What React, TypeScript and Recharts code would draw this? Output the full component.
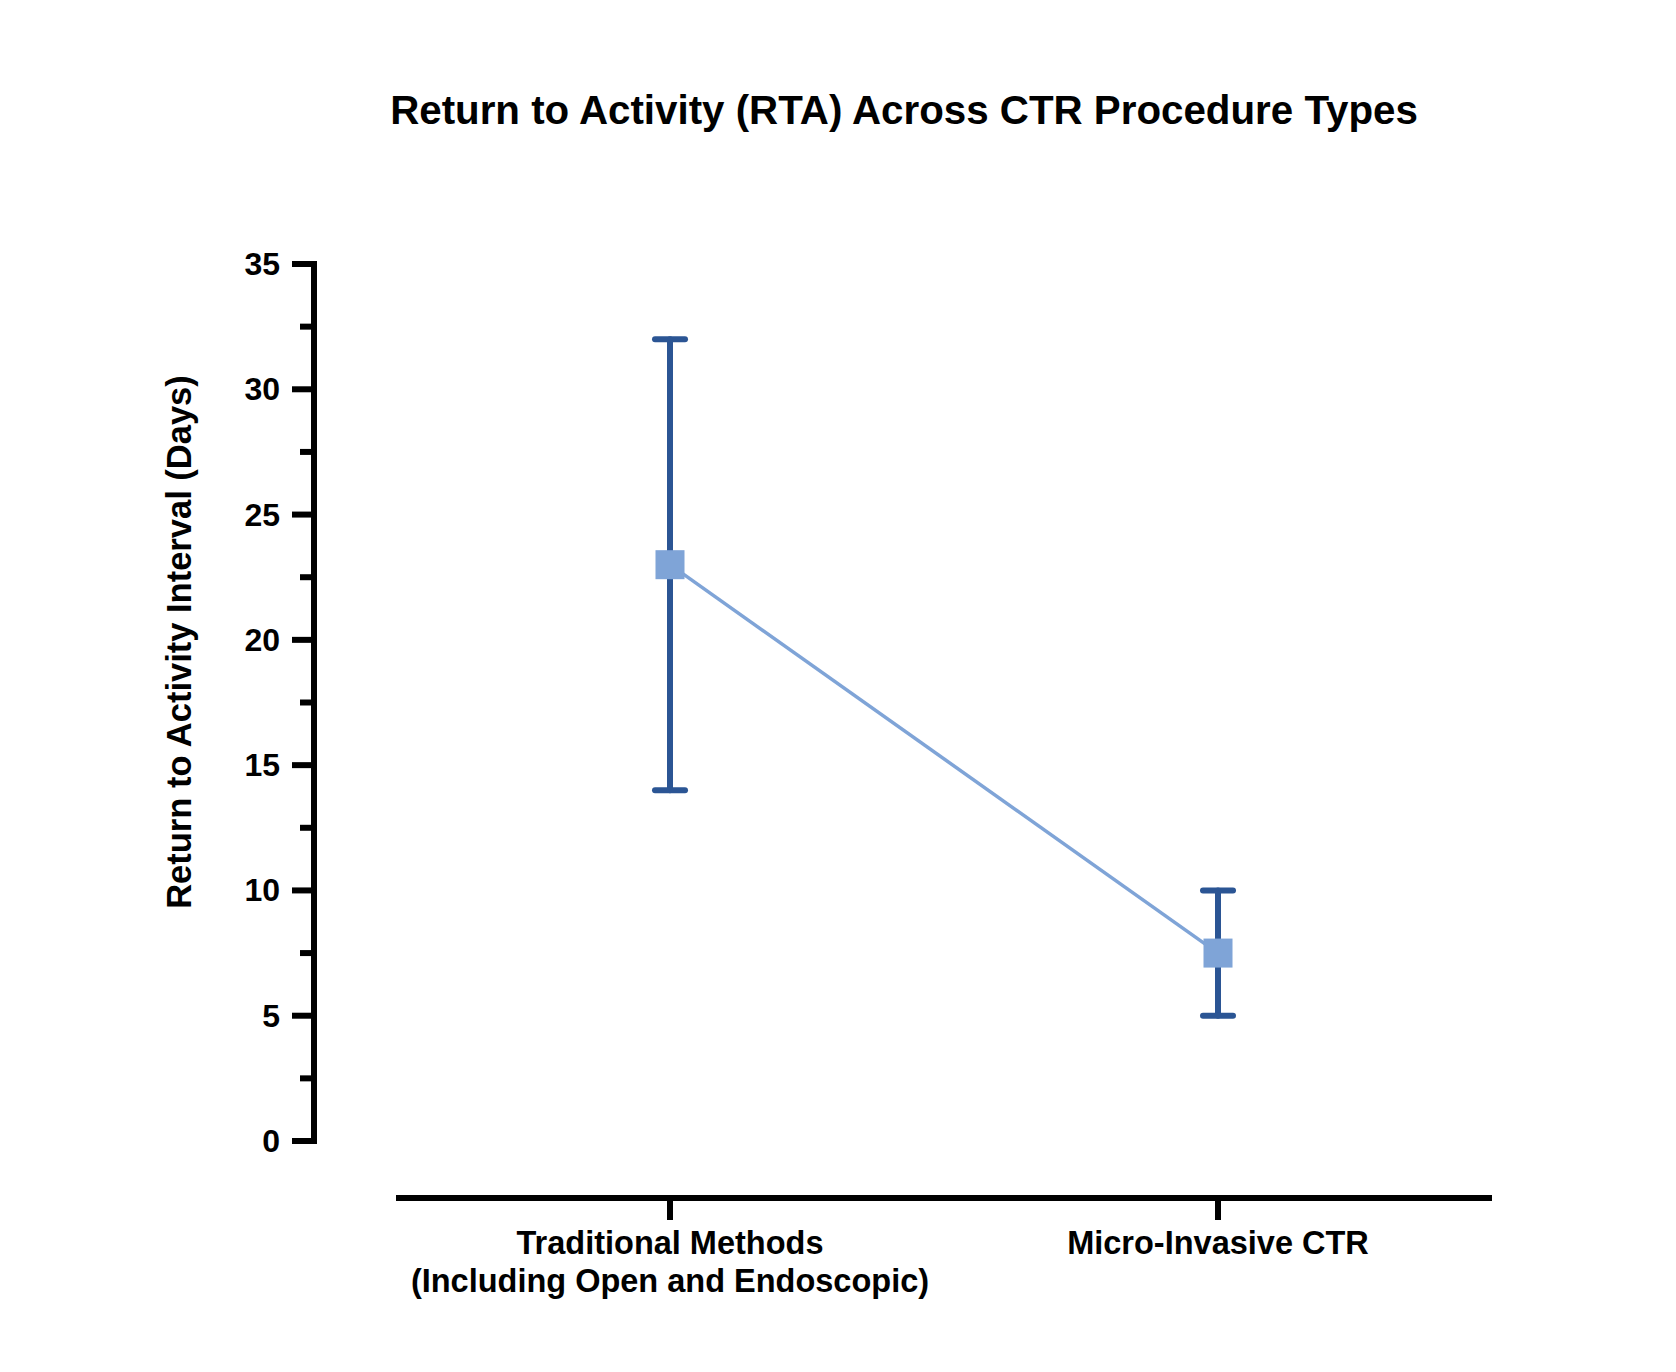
import React from 'react'
import { ComposedChart, Line, XAxis, YAxis, ErrorBar } from 'recharts'

// procedure groups and return-to-activity interval (days)
const procedures = ['Traditional Methods\n(Including Open and Endoscopic)', 'Micro-Invasive CTR']
const meanDays = [23, 7.5]
const lowDays = [14, 5]
const highDays = [32, 10]

const yTicks = [0, 2.5, 5, 7.5, 10, 12.5, 15, 17.5, 20, 22.5, 25, 27.5, 30, 32.5, 35]

const data = procedures.map((name, i) => ({
  name,
  mean: meanDays[i],
  err: [meanDays[i] - lowDays[i], highDays[i] - meanDays[i]],
}))

const FONT = '"Liberation Sans", Arial, Helvetica, sans-serif'
const DARK = '#2B5594'
const LIGHT = '#7FA4D7'

const YTick = (props: any) => {
  const { x, y, payload } = props
  const major = payload.value % 5 === 0
  return (
    <g>
      <line x1={x - (major ? 22 : 14)} y1={y} x2={x} y2={y} stroke="#000" strokeWidth={6} />
      {major && (
        <text x={x - 34} y={y + 11} textAnchor="end" fontFamily={FONT} fontWeight="bold" fontSize={32} fill="#000">
          {payload.value}
        </text>
      )}
    </g>
  )
}

const XTick = (props: any) => {
  const { x, y, payload } = props
  const lines = String(payload.value).split('\n')
  return (
    <g>
      <line x1={x} y1={y} x2={x} y2={y + 22} stroke="#000" strokeWidth={6} />
      {lines.map((l, i) => (
        <text key={i} x={x} y={y + 56 + i * 38} textAnchor="middle" fontFamily={FONT} fontWeight="bold" fontSize={32.5} fill="#000">
          {l}
        </text>
      ))}
    </g>
  )
}

const SquareDot = (props: any) => {
  const { cx, cy, index } = props
  return <rect key={`dot-${index}`} x={cx - 14.5} y={cy - 14.5} width={29} height={29} fill={LIGHT} />
}

const YLabel = (props: any) => {
  const vb = props.viewBox || { x: 150 }
  const x = vb.x + 33
  const y = 634
  return (
    <text x={x} y={y} transform={`rotate(-90 ${x} ${y})`} textAnchor="middle" fontFamily={FONT} fontWeight="bold" fontSize={34.5} fill="#000">
      Return to Activity Interval (Days)
    </text>
  )
}

export default function App() {
  return (
    <div style={{ position: 'relative', width: 1660, height: 1356 }}>
      <div
        style={{
          position: 'absolute',
          left: 296,
          top: 80,
          width: 1200,
          textAlign: 'center',
          fontFamily: FONT,
          fontWeight: 'bold',
          fontSize: 40.3,
          lineHeight: '46px',
          color: '#000',
          whiteSpace: 'nowrap',
        }}
      >
        Return to Activity (RTA) Across CTR Procedure Types
      </div>
      <ComposedChart
        width={1660}
        height={1356}
        data={data}
        margin={{ top: 256, right: 176, bottom: 16, left: 150 }}
      >
        <XAxis xAxisId="gap" dataKey="name" height={57} axisLine={false} tickLine={false} tick={false} />
        <XAxis
          xAxisId="main"
          dataKey="name"
          scale="band"
          height={150}
          axisLine={{ stroke: '#000', strokeWidth: 6 }}
          tickLine={false}
          tickSize={0}
          tickMargin={0}
          tick={<XTick />}
          interval={0}
        />
        <YAxis yAxisId="gap" width={82} axisLine={false} tickLine={false} tick={false} />
        <YAxis
          yAxisId="main"
          width={156}
          domain={[0, 35]}
          ticks={yTicks}
          interval={0}
          axisLine={{ stroke: '#000', strokeWidth: 6, strokeLinecap: 'square' }}
          tickLine={false}
          tickSize={0}
          tickMargin={0}
          tick={<YTick />}
          label={{ content: <YLabel /> }}
        />
        <Line
          xAxisId="main"
          yAxisId="main"
          dataKey="mean"
          stroke={LIGHT}
          strokeWidth={3.5}
          dot={<SquareDot />}
          activeDot={false}
          isAnimationActive={false}
        >
          <ErrorBar dataKey="err" direction="y" width={15} stroke={DARK} strokeWidth={6} strokeLinecap="round" />
        </Line>
      </ComposedChart>
    </div>
  )
}
